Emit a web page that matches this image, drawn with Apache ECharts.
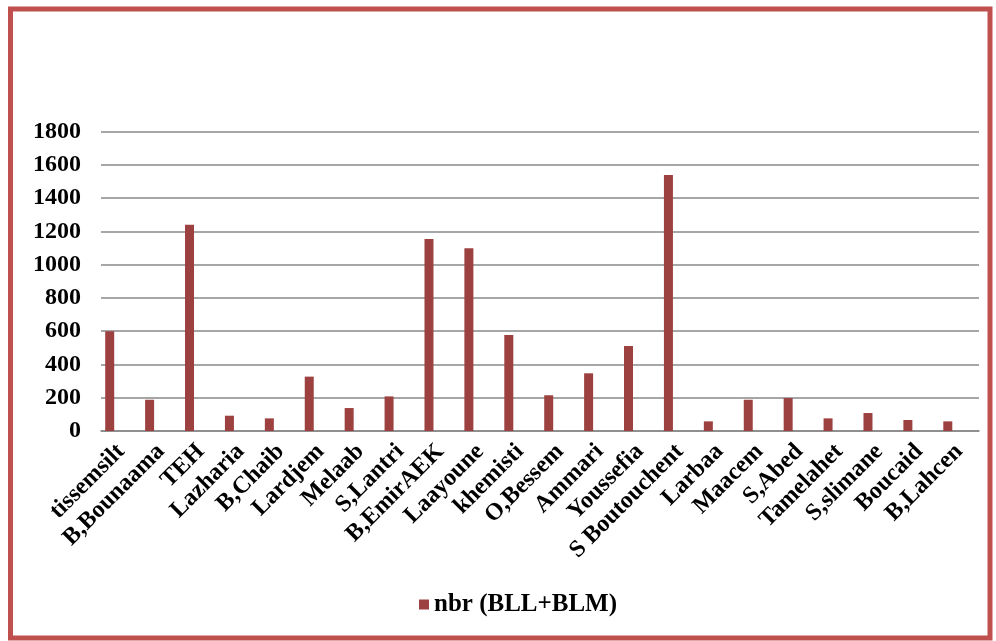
<!DOCTYPE html>
<html>
<head>
<meta charset="utf-8">
<script src="https://cdn.jsdelivr.net/npm/echarts@6/dist/echarts.min.js"></script>
<style>
html,body{margin:0;padding:0;background:#fff;}
#chart{width:996px;height:641px;}
</style>
</head>
<body>
<div id="chart"></div>
<script>
var categories = ['tissemsilt','B,Bounaama','TEH','Lazharia','B,Chaib','Lardjem','Melaab','S,Lantri','B,EmirAEK','Laayoune','khemisti','O,Bessem','Ammari','Youssefia','S Boutouchent','Larbaa','Maacem','S,Abed','Tamelahet','S,slimane','Boucaid','B,Lahcen'];
var values = [600, 188, 1240, 92, 76, 327, 138, 208, 1155, 1099, 577, 215, 347, 511, 1540, 58, 188, 198, 76, 108, 66, 58];
var seriesName = 'nbr (BLL+BLM)';
var yMin = 0, yMax = 1800, yStep = 200;

var font = "'Liberation Serif','Times New Roman',serif";
var chart = echarts.init(document.getElementById('chart'));
chart.setOption({
  backgroundColor: '#ffffff',
  animation: false,
  textStyle: { fontFamily: font, fontWeight: 'bold', color: '#000' },
  grid: { left: 101, right: 17, top: 131.7, bottom: 210, containLabel: false },
  legend: {
    data: [seriesName], left: 414, top: 587,
    icon: 'rect', itemWidth: 10, itemHeight: 10,
    textStyle: { fontFamily: font, fontWeight: 'bold', fontSize: 25, color: '#000' }
  },
  xAxis: {
    type: 'category', data: categories,
    axisLine: { show: true, lineStyle: { color: '#888', width: 1.5 } },
    axisTick: { show: false },
    axisLabel: { interval: 0, rotate: 45, margin: 17, fontFamily: font, fontWeight: 'bold', fontSize: 24, color: '#000' }
  },
  yAxis: {
    type: 'value', min: yMin, max: yMax, interval: yStep,
    axisLine: { show: false }, axisTick: { show: false },
    splitLine: { lineStyle: { color: '#888', width: 1.5 } },
    axisLabel: { margin: 20, fontFamily: font, fontWeight: 'bold', fontSize: 24, color: '#000',
      formatter: function (v) { return String(v); } }
  },
  series: [
    { name: seriesName, type: 'bar', data: values, barWidth: 9, barGap: '150%',
      itemStyle: { color: '#9d4040' } },
    { name: 'ghost', type: 'bar', data: [], barWidth: 9 }
  ],
  graphic: [{
    type: 'rect', silent: true, z: 100,
    shape: { x: 10.5, y: 9, width: 979.5, height: 629 },
    style: { fill: 'none', stroke: '#c0504d', lineWidth: 5 }
  }]
});
</script>
</body>
</html>
